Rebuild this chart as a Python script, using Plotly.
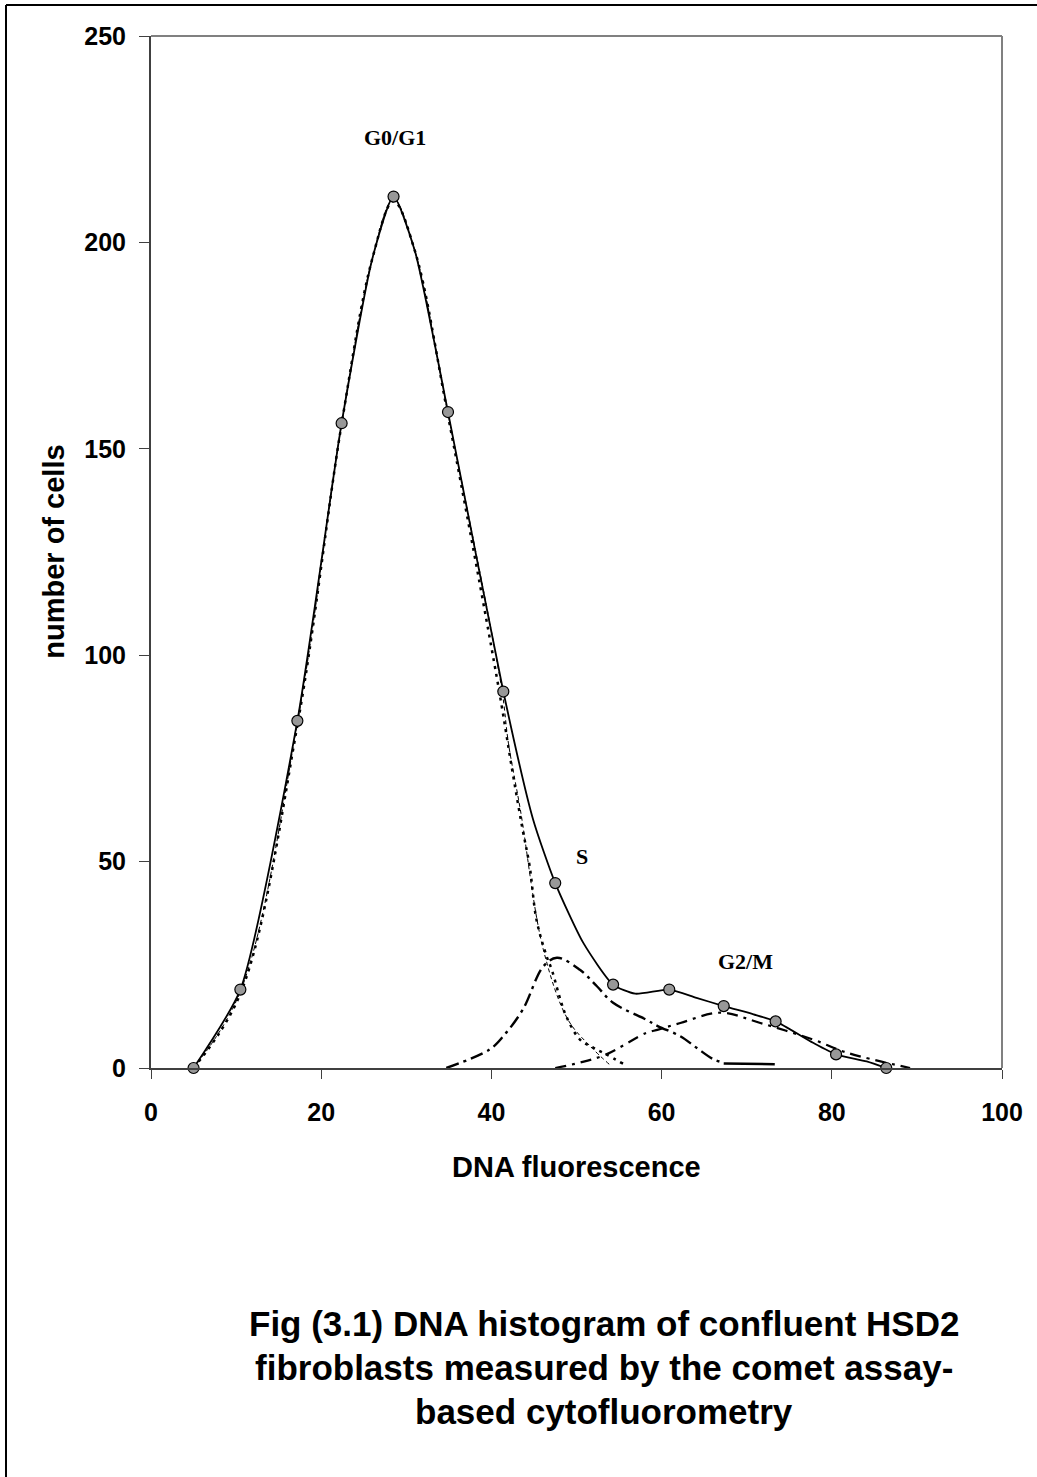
import plotly.graph_objects as go

# ---- data ----
obs_x = [5.0, 10.5, 17.2, 22.4, 28.5, 34.9, 41.4, 47.5, 54.3, 60.9, 67.3, 73.4, 80.5, 86.4]
obs_y = [0, 19.0, 84.1, 156.2, 211.1, 158.9, 91.2, 44.8, 20.2, 19.0, 15.0, 11.3, 3.3, 0]

total_x = [5.0, 10.5, 17.2, 22.4, 26.0, 28.5, 31.0, 34.9, 41.4, 44.9, 47.5, 50.8, 54.3, 56.9,
           60.9, 64.1, 67.3, 70.8, 73.4, 77.8, 80.5, 84.1, 86.4]
total_y = [0, 19.0, 84.1, 156.2, 196.0, 211.1, 198.0, 158.9, 91.2, 60.2, 44.8, 30.3, 20.2, 18.0,
           19.0, 17.0, 15.0, 13.0, 11.3, 6.1, 3.3, 1.6, 0]

g1_dot_x = [5.0, 10.5, 17.2, 22.4, 26.0, 28.5, 31.0, 34.9, 40.6, 42.5, 43.6, 44.5, 45.3, 46.5,
            47.1, 48.1, 48.8, 50.4, 52.0, 53.5, 55.5]
g1_dot_y = [0, 18.0, 83.0, 156.0, 196.0, 210.0, 198.0, 158.0, 95.0, 71.5, 58.5, 48.8, 35.9, 27.0,
            23.8, 16.6, 12.5, 6.9, 4.9, 3.3, 1.0]

g1_thin_x = [5.0, 10.5, 17.2, 22.4, 26.0, 28.5, 31.0, 34.9, 41.2, 42.0, 43.4, 46.1, 49.0, 51.6, 53.9]
g1_thin_y = [0, 18.5, 83.5, 156.0, 196.0, 210.5, 198.0, 158.5, 92.0, 78.7, 62.6, 28.7, 11.7, 5.3, 0.8]

s_x = [34.7, 39.8, 41.4, 43.7, 46.1, 47.7, 50.4, 52.4, 54.3, 58.2, 59.6, 62.2, 64.1, 66.1, 67.3]
s_y = [0, 4.5, 7.7, 14.2, 24.6, 26.7, 23.8, 19.8, 15.8, 11.7, 10.1, 7.7, 4.9, 2.1, 1.3]

s_tail_x = [67.3, 73.3]
s_tail_y = [1.1, 0.9]

g2_x = [47.5, 50.4, 53.5, 58.2, 59.6, 62.2, 66.9, 71.6, 77.8, 81.8, 89.2]
g2_y = [0, 1.3, 3.3, 8.5, 9.3, 10.9, 13.4, 10.9, 6.9, 3.7, 0]

phase_labels = ["G0/G1", "S", "G2/M"]
phase_x = [28.7, 50.6, 69.9]
phase_y = [225.5, 51.3, 25.9]

x_ticks = [0, 20, 40, 60, 80, 100]
y_ticks = [0, 50, 100, 150, 200, 250]

caption_lines = ["Fig (3.1) DNA histogram of confluent HSD2",
                 "fibroblasts measured by the comet assay-",
                 "based cytofluorometry"]

# ---- figure ----
W, H = 1037, 1477
L, R, T, B = 151, 35, 36, 408.5
pw, ph = W - L - R, H - T - B


def px_x(p):
    return (p - L) / pw


def px_y(p):
    return (H - B - p) / ph


fig = go.Figure()

fig.add_trace(go.Scatter(x=g1_thin_x, y=g1_thin_y, mode="lines", line_shape="spline",
                         line=dict(color="black", width=1, dash="4px,3px"),
                         cliponaxis=False, showlegend=False))
fig.add_trace(go.Scatter(x=g1_dot_x, y=g1_dot_y, mode="lines", line_shape="spline",
                         line=dict(color="black", width=2.5, dash="3px,5px"),
                         cliponaxis=False, showlegend=False))
fig.add_trace(go.Scatter(x=s_x, y=s_y, mode="lines", line_shape="spline",
                         line=dict(color="black", width=2.4, dash="13px,5px,3px,5px"),
                         cliponaxis=False, showlegend=False))
fig.add_trace(go.Scatter(x=s_tail_x, y=s_tail_y, mode="lines",
                         line=dict(color="black", width=2.5),
                         cliponaxis=False, showlegend=False))
fig.add_trace(go.Scatter(x=g2_x, y=g2_y, mode="lines", line_shape="spline",
                         line=dict(color="black", width=2.2, dash="11px,6px,3px,6px"),
                         cliponaxis=False, showlegend=False))
fig.add_trace(go.Scatter(x=total_x, y=total_y, mode="lines", line_shape="spline",
                         line=dict(color="black", width=1.8, smoothing=0.6),
                         cliponaxis=False, showlegend=False))
fig.add_trace(go.Scatter(x=obs_x, y=obs_y, mode="markers",
                         marker=dict(size=11, color="#989898", line=dict(color="black", width=1.2)),
                         cliponaxis=False, showlegend=False))

for t, xv, yv in zip(phase_labels, phase_x, phase_y):
    fig.add_annotation(x=xv, y=yv, text="<b>%s</b>" % t, showarrow=False,
                       xanchor="center", yanchor="middle",
                       font=dict(family="Liberation Serif", size=22, color="black"))

# axis titles
fig.add_annotation(x=px_x(576), y=px_y(1168), xref="paper", yref="paper",
                   xanchor="center", yanchor="middle",
                   text="<b>DNA fluorescence</b>", showarrow=False,
                   font=dict(family="Liberation Sans", size=29, color="black"))
fig.add_annotation(x=px_x(54), y=px_y(552), xref="paper", yref="paper",
                   xanchor="center", yanchor="middle",
                   text="<b>number of cells</b>", showarrow=False, textangle=-90,
                   font=dict(family="Liberation Sans", size=29, color="black"))

# caption
for line, cy in zip(caption_lines, [1324, 1368.5, 1412.5]):
    fig.add_annotation(x=px_x(604), y=px_y(cy), xref="paper", yref="paper",
                       xanchor="center", yanchor="middle",
                       text="<b>%s</b>" % line, showarrow=False,
                       font=dict(family="Liberation Sans", size=35, color="black"))

# plot frame (top/right lighter) and outer page border (left/top)
fig.add_shape(type="line", xref="paper", yref="paper", x0=0, y0=1, x1=1, y1=1,
              line=dict(color="#808080", width=2))
fig.add_shape(type="line", xref="paper", yref="paper", x0=1, y0=0, x1=1, y1=1,
              line=dict(color="#808080", width=2))
fig.add_shape(type="line", xref="paper", yref="paper", x0=px_x(6), y0=px_y(5), x1=px_x(1045), y1=px_y(5),
              line=dict(color="black", width=2))
fig.add_shape(type="line", xref="paper", yref="paper", x0=px_x(6), y0=px_y(5), x1=px_x(6), y1=px_y(1490),
              line=dict(color="black", width=2))

fig.update_layout(
    width=W, height=H,
    margin=dict(l=L, r=R, t=T, b=B, pad=0),
    paper_bgcolor="white", plot_bgcolor="white",
    font=dict(family="Liberation Sans", color="black"),
    xaxis=dict(range=[0, 100], tickvals=x_ticks, ticktext=[str(v) for v in x_ticks],
               showgrid=False, zeroline=False, showline=True, linecolor="#404040", linewidth=2,
               ticks="outside", ticklen=9, tickwidth=1, tickcolor="#404040",
               tickfont=dict(family="Liberation Sans", size=25, color="black", weight="bold"),
               ticklabelstandoff=12),
    yaxis=dict(range=[0, 250], tickvals=y_ticks, ticktext=[str(v) for v in y_ticks],
               showgrid=False, zeroline=False, showline=True, linecolor="#404040", linewidth=2,
               ticks="outside", ticklen=10, tickwidth=1, tickcolor="#404040",
               tickfont=dict(family="Liberation Sans", size=25, color="black", weight="bold"),
               ticklabelstandoff=8),
)

fig.write_html("out.html")
